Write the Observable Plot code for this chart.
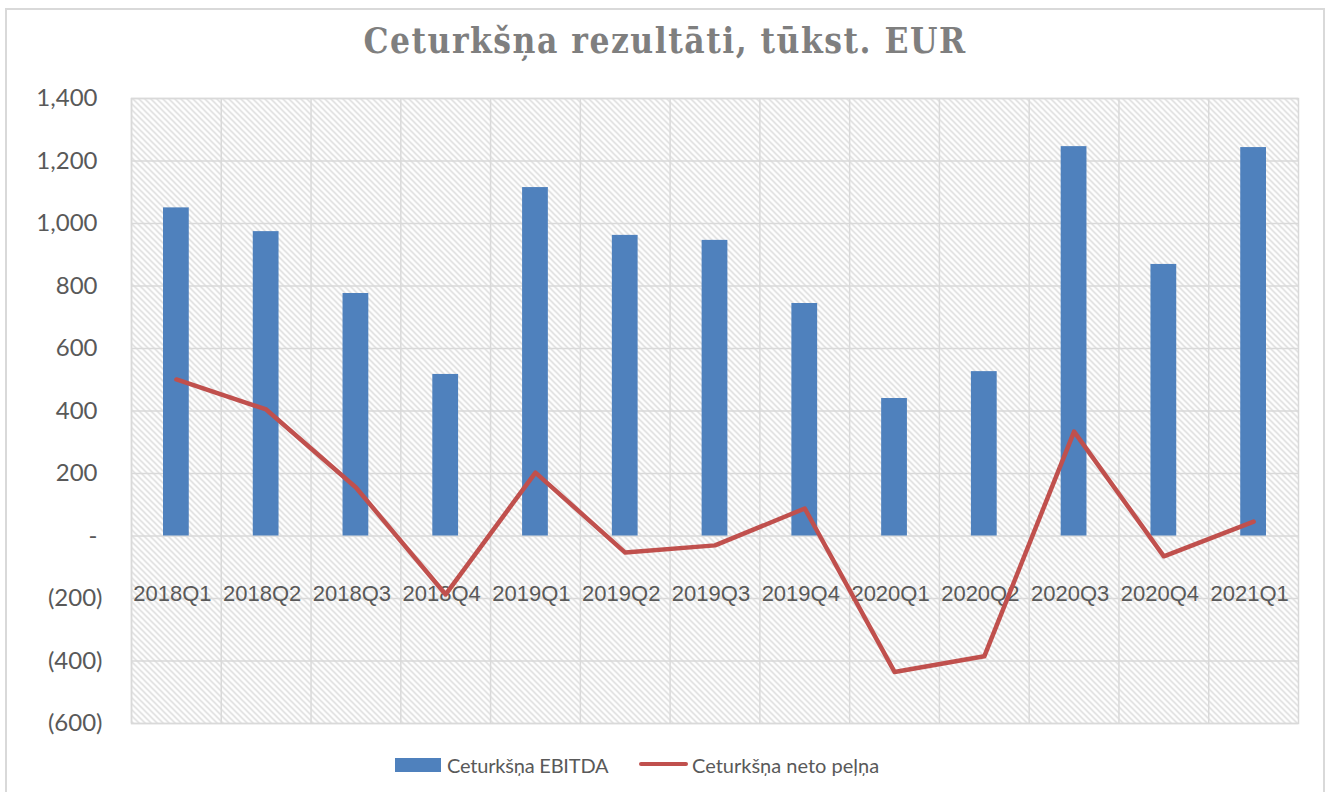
<!DOCTYPE html>
<html>
<head>
<meta charset="utf-8">
<script src="https://cdn.jsdelivr.net/npm/d3@7"></script>
<script src="https://cdn.jsdelivr.net/npm/@observablehq/plot@0.6"></script>
<style>
  html, body { margin: 0; padding: 0; background: #fff; width: 1330px; height: 792px; overflow: hidden; }
  #border { position: absolute; left: 5px; top: 8px; width: 1320px; height: 820px; border: 2px solid #d9d9d9; box-sizing: border-box; }
  #title { position: absolute; left: 0; top: 23px; width: 1330px; text-align: center; font-family: "DejaVu Serif Condensed", "Liberation Serif", serif; font-weight: bold; font-size: 35px; letter-spacing: 1.5px; line-height: 36px; color: #7f7f7f; }
  #chart { position: absolute; left: 0; top: 80px; }
  .leg { position: absolute; font-family: Lato, sans-serif; font-size: 20px; color: #595959; line-height: 20px; top: 755px; }
  .sw { position: absolute; }
</style>
</head>
<body>
<div id="border"></div>
<div id="title">Ceturkšņa rezultāti, tūkst. EUR</div>
<div id="chart"></div>
<div class="sw" style="left:395px; top:758px; width:46px; height:14px; background:#4f81bd;"></div>
<div class="leg" style="left:447px; letter-spacing:-0.2px;">Ceturkšņa EBITDA</div>
<div class="sw" style="left:639px; top:762px; width:49px; height:4px; border-radius:2px; background:#c0504d;"></div>
<div class="leg" style="left:692px;">Ceturkšņa neto peļņa</div>
<script>
const quarters = ["2018Q1","2018Q2","2018Q3","2018Q4","2019Q1","2019Q2","2019Q3","2019Q4","2020Q1","2020Q2","2020Q3","2020Q4","2021Q1"];
const ebitda = [1050, 974, 776, 517, 1115, 962, 946, 744, 440, 526, 1246, 869, 1243];
const netProfit = [501, 405, 155, -187, 203, -53, -30, 88, -435, -385, 334, -65, 46];
const yTicks = [-600, -400, -200, 0, 200, 400, 600, 800, 1000, 1200, 1400];

const rows = quarters.map((q, i) => ({q, ebitda: ebitda[i], net: netProfit[i]}));

const W = 1330, H = 680, ML = 131, MR = 32, MT = 18, MB = 37;
const step = (W - ML - MR) / quarters.length;
const fmt = d3.format(",");
const tf = d => d === 0 ? "-" : d < 0 ? `(${fmt(-d)})` : fmt(d);
const grid = "#d9d9d9";

const svg = Plot.plot({
  width: W, height: H,
  marginLeft: ML, marginRight: MR, marginTop: MT, marginBottom: MB,
  style: {background: "transparent", overflow: "visible"},
  x: {type: "band", domain: quarters, padding: 0, round: false, axis: null},
  y: {domain: [-600, 1400], axis: null},
  marks: [
    Plot.frame({fill: "url(#hatch)", stroke: null}),
    Plot.gridY(yTicks, {stroke: grid, strokeOpacity: 1, strokeWidth: 1.5}),
    Plot.ruleX(quarters, {x: d => d, dx: -step / 2, stroke: grid, strokeWidth: 1.5}),
    Plot.frame({stroke: grid, strokeWidth: 1.5}),
    Plot.barY(rows, {x: "q", y: "ebitda", fill: "#4f81bd", insetLeft: 32, insetRight: 32}),
    Plot.axisX({anchor: "bottom", tickSize: 0, tickPadding: 0, dy: -138, dx: -4, fontSize: 22, fontFamily: "Liberation Sans, Arial, sans-serif", fill: "#595959", label: null}),
    Plot.line(rows, {x: "q", y: "net", stroke: "#c0504d", strokeWidth: 4.5, strokeLinejoin: "round", strokeLinecap: "round"}),
    Plot.axisY(yTicks.filter(d => d >= 0), {anchor: "left", tickSize: 0, tickPadding: 34, tickFormat: tf, fontSize: 24, fontFamily: "Lato, sans-serif", fill: "#595959", label: null}),
    Plot.axisY(yTicks.filter(d => d < 0), {anchor: "left", tickSize: 0, tickPadding: 29, tickFormat: tf, fontSize: 24, fontFamily: "Lato, sans-serif", fill: "#595959", label: null})
  ]
});

const defs = d3.select(svg).insert("defs", ":first-child");
const pat = defs.append("pattern").attr("id", "hatch").attr("patternUnits", "userSpaceOnUse").attr("width", 6).attr("height", 6);
pat.append("rect").attr("width", 6).attr("height", 6).attr("fill", "#ffffff");
pat.append("path").attr("d", "M0,0L6,6M-3,3L3,9M3,-3L9,3").attr("stroke", "#d6d6d6").attr("stroke-width", 1.3);

document.getElementById("chart").appendChild(svg);
</script>
</body>
</html>
